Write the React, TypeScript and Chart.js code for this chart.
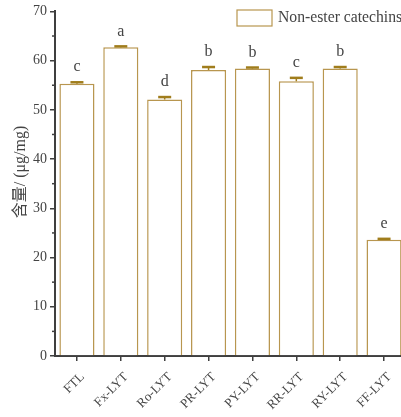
import React, { useEffect, useRef } from 'react';
import { Chart, registerables } from 'chart.js';
Chart.register(...registerables);

const categories = ['FTL', 'Fx-LYT', 'Ro-LYT', 'PR-LYT', 'PY-LYT', 'RR-LYT', 'RY-LYT', 'FF-LYT'];
const values = [55.3, 62.7, 52.1, 58.1, 58.4, 55.8, 58.4, 23.6];
const errors = [0.3, 0.2, 0.5, 0.6, 0.2, 0.7, 0.3, 0.2];
const letters = ['c', 'a', 'd', 'b', 'b', 'c', 'b', 'e'];
const minorTicks = [5, 15, 25, 35, 45, 55, 65];
const seriesName = 'Non-ester catechins';
const yTitle = '含量/ (μg/mg)';

const SERIF = "'Liberation Serif', 'Noto Sans CJK SC', serif";
const BAR_BORDER = '#b8964f';
const ERR_COLOR = '#a07d1c';
const AXIS = '#3f3f3f';
const TEXT = '#444';

const overlayPlugin = {
  id: 'overlay',
  afterDatasetsDraw(chart: any) {
    const ctx = chart.ctx;
    const meta = chart.getDatasetMeta(0);
    const y = chart.scales.y;
    const area = chart.chartArea;
    ctx.save();
    meta.data.forEach((bar: any, i: number) => {
      const x = bar.x;
      const yTop = y.getPixelForValue(values[i] + errors[i]);
      const yBase = y.getPixelForValue(values[i]);
      const capW = 13;
      ctx.strokeStyle = ERR_COLOR;
      ctx.lineWidth = 1.5;
      ctx.beginPath();
      ctx.moveTo(x, yBase);
      ctx.lineTo(x, yTop);
      ctx.stroke();
      ctx.lineWidth = 2.5;
      ctx.beginPath();
      ctx.moveTo(x - capW / 2, yTop);
      ctx.lineTo(x + capW / 2, yTop);
      ctx.stroke();
      ctx.fillStyle = TEXT;
      ctx.font = `16px ${SERIF}`;
      ctx.textAlign = 'center';
      ctx.textBaseline = 'middle';
      ctx.fillText(letters[i], x, yTop - 15);

      // x category labels, rotated 45°
      ctx.save();
      ctx.translate(x + 5.5, area.bottom + 19);
      ctx.rotate(-Math.PI / 4);
      ctx.font = `13px ${SERIF}`;
      ctx.textAlign = 'right';
      ctx.textBaseline = 'middle';
      ctx.fillStyle = TEXT;
      ctx.fillText(categories[i], 0, 0);
      ctx.restore();
    });
    // minor ticks on y axis
    ctx.strokeStyle = AXIS;
    ctx.lineWidth = 1.5;
    minorTicks.forEach((v) => {
      const py = y.getPixelForValue(v);
      ctx.beginPath();
      ctx.moveTo(area.left - 3, py);
      ctx.lineTo(area.left, py);
      ctx.stroke();
    });
    // y axis title
    ctx.save();
    ctx.translate(21, 172);
    ctx.rotate(-Math.PI / 2);
    ctx.font = `16px ${SERIF}`;
    ctx.textAlign = 'center';
    ctx.textBaseline = 'middle';
    ctx.fillStyle = TEXT;
    ctx.fillText(yTitle, 0, 0);
    ctx.restore();
    // legend
    ctx.fillStyle = '#fff';
    ctx.fillRect(237, 10, 35, 16);
    ctx.strokeStyle = BAR_BORDER;
    ctx.lineWidth = 1.2;
    ctx.strokeRect(237, 10, 35, 16);
    ctx.fillStyle = TEXT;
    ctx.font = `15.7px ${SERIF}`;
    ctx.textAlign = 'left';
    ctx.textBaseline = 'middle';
    ctx.fillText(seriesName, 278, 18);
    ctx.restore();
  },
};

export default function App() {
  const ref = useRef<HTMLCanvasElement>(null);
  useEffect(() => {
    const chart = new Chart(ref.current!, {
      type: 'bar',
      data: {
        labels: categories,
        datasets: [
          {
            label: seriesName,
            data: values,
            backgroundColor: '#ffffff',
            borderColor: BAR_BORDER,
            borderWidth: 1.5,
            barPercentage: 0.8,
            categoryPercentage: 1,
          },
        ],
      },
      options: {
        animation: false,
        responsive: false,
        maintainAspectRatio: false,
        layout: { padding: { top: 8, left: 0, right: 0, bottom: 0 } },
        plugins: { legend: { display: false }, tooltip: { enabled: false } },
        scales: {
          x: {
            offset: true,
            grid: {
              offset: false,
              drawOnChartArea: false,
              drawTicks: true,
              tickLength: 5,
              color: AXIS,
              lineWidth: 1.5,
            },
            border: { color: AXIS, width: 2 },
            ticks: {
              maxRotation: 45,
              minRotation: 45,
              color: 'rgba(0,0,0,0)',
              font: { family: SERIF, size: 13 },
              padding: 2,
            },
            afterFit(scale: any) {
              scale.height = 61;
            },
          },
          y: {
            min: 0,
            max: 70,
            ticks: {
              stepSize: 10,
              color: TEXT,
              font: { family: SERIF, size: 14 },
              padding: 3,
            },
            grid: {
              drawOnChartArea: false,
              drawTicks: true,
              tickLength: 5,
              color: AXIS,
              lineWidth: 1.5,
            },
            border: { color: AXIS, width: 2 },
            title: { display: false },
            afterFit(scale: any) {
              scale.width = 55;
            },
          },
        },
      },
      plugins: [overlayPlugin],
    });
    return () => chart.destroy();
  }, []);
  return (
    <canvas
      ref={ref}
      width={406}
      height={417}
      style={{ position: 'fixed', left: 0, top: 0, width: 406, height: 417, background: '#fff' }}
    />
  );
}
